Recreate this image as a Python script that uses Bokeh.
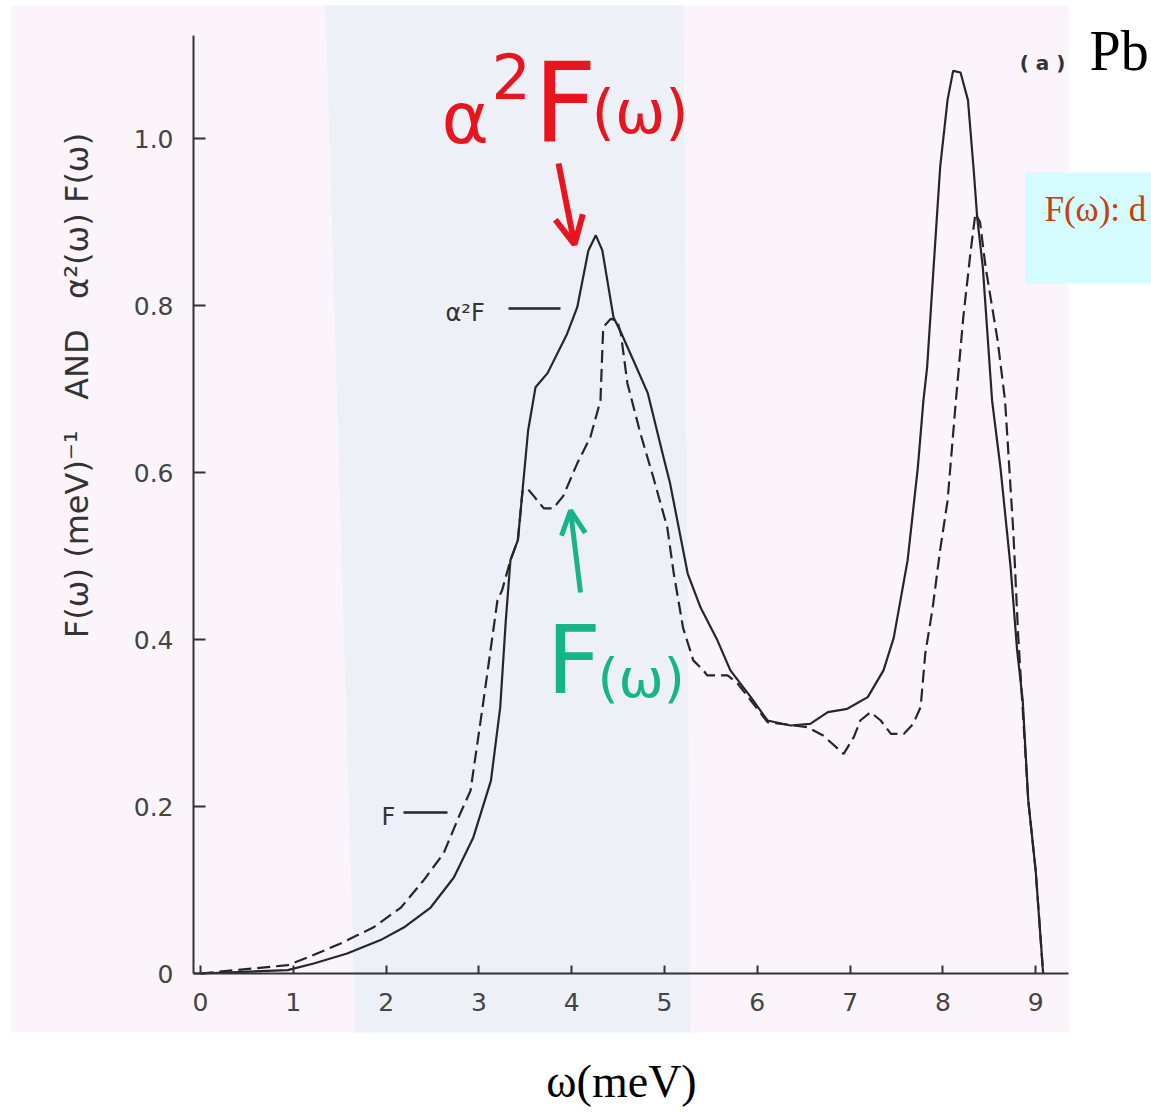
import math

from bokeh.embed import file_html
from bokeh.models import (Arrow, BoxAnnotation, FixedTicker, Label, OpenHead,
                          PolyAnnotation, Range1d)
from bokeh.plotting import figure
from bokeh.resources import INLINE

# Eliashberg function alpha^2 F(omega) of Pb (omega in meV)
omega_a2f = [0.00, 0.94, 1.22, 1.58, 1.94, 2.19, 2.48, 2.73, 2.94, 3.13,
             3.23, 3.29, 3.34, 3.42, 3.47, 3.53, 3.61, 3.74, 3.95, 4.06,
             4.18, 4.26, 4.33, 4.45, 4.53, 4.67, 4.82, 4.99, 5.06, 5.25,
             5.39, 5.57, 5.71, 5.93, 6.11, 6.36, 6.57, 6.76, 6.97, 7.19,
             7.36, 7.47, 7.62, 7.73, 7.79, 7.83, 7.90, 7.97, 8.05, 8.11,
             8.19, 8.27, 8.33, 8.37, 8.43, 8.48, 8.53, 8.62, 8.73, 8.80,
             8.86, 8.92, 9.00, 9.08]
a2f = [0.000, 0.004, 0.012, 0.024, 0.040, 0.055, 0.079, 0.115, 0.163, 0.231,
       0.319, 0.423, 0.495, 0.519, 0.578, 0.650, 0.702, 0.719, 0.766, 0.798,
       0.866, 0.884, 0.866, 0.786, 0.768, 0.733, 0.695, 0.618, 0.587, 0.479,
       0.438, 0.399, 0.363, 0.331, 0.303, 0.297, 0.299, 0.313, 0.317, 0.331,
       0.363, 0.402, 0.495, 0.606, 0.686, 0.726, 0.846, 0.965, 1.046, 1.081,
       1.079, 1.046, 0.965, 0.905, 0.846, 0.766, 0.686, 0.606, 0.486, 0.387,
       0.327, 0.207, 0.123, 0.000]

# phonon density of states F(omega) of Pb
omega_f = [0.00, 0.94, 1.15, 1.51, 1.86, 2.16, 2.40, 2.62, 2.80, 2.91,
           3.05, 3.20, 3.25, 3.34, 3.42, 3.47, 3.52, 3.59, 3.70, 3.80,
           3.91, 4.06, 4.20, 4.31, 4.33, 4.34, 4.42, 4.49, 4.53, 4.60,
           4.74, 4.88, 5.03, 5.10, 5.20, 5.31, 5.42, 5.46, 5.68, 5.79,
           5.93, 6.11, 6.54, 6.71, 6.93, 7.04, 7.11, 7.22, 7.33, 7.44,
           7.58, 7.68, 7.76, 7.81, 7.89, 7.97, 8.05, 8.14, 8.22, 8.30,
           8.35, 8.40, 8.46, 8.59, 8.67, 8.76, 8.81, 8.92, 9.00, 9.08]
f_dos = [0.000, 0.010, 0.019, 0.036, 0.055, 0.079, 0.111, 0.144, 0.192, 0.219,
         0.327, 0.447, 0.459, 0.495, 0.519, 0.578, 0.581, 0.572, 0.557, 0.557,
         0.572, 0.611, 0.642, 0.686, 0.746, 0.774, 0.784, 0.782, 0.766, 0.707,
         0.647, 0.594, 0.534, 0.479, 0.414, 0.375, 0.363, 0.357, 0.357, 0.347,
         0.327, 0.301, 0.295, 0.285, 0.263, 0.283, 0.303, 0.313, 0.303, 0.287,
         0.287, 0.299, 0.319, 0.383, 0.438, 0.507, 0.566, 0.686, 0.786, 0.866,
         0.910, 0.900, 0.846, 0.758, 0.686, 0.527, 0.407, 0.207, 0.123, 0.000]

x_ticks = [0, 1, 2, 3, 4, 5, 6, 7, 8, 9]
y_ticks = [0.0, 0.2, 0.4, 0.6, 0.8, 1.0]
y_tick_labels = {0: "0", 1: "1.0"}

# ---- page geometry (pixels from the top-left corner of the page) ----
W, H = 1151, 1112
AX_L, AX_R, AX_T, AX_B = 193, 1068, 35, 973   # extent of the drawn axes
X0_PX, PX_PER_MEV = 200.0, 92.8     # omega = 0 sits at x = 200 px
Y0_PX, PX_PER_UNIT = 973.0, 835.0   # value = 0 sits at y = 973 px


def dx(px):
    """horizontal page position -> omega (meV)"""
    return (px - X0_PX) / PX_PER_MEV


def dy(py):
    """vertical page position -> curve value"""
    return (Y0_PX - py) / PX_PER_UNIT


INK = "#262626"
RED = "#e8141e"
GREEN = "#17b48a"
PAPER = "#fbf5fb"
BAND = "#eef0f7"
NB = "\u00a0"

# the plotting frame spans the whole page; the axes are pinned inside it
p = figure(width=W, height=H, output_backend="svg", toolbar_location=None,
           x_range=Range1d(dx(0), dx(W)), y_range=Range1d(dy(H), dy(0)),
           min_border=0)
p.title.visible = False
p.background_fill_color = "white"
p.border_fill_color = "white"
p.outline_line_color = None
p.grid.visible = False

# paper sheet and the pale vertical band across it
p.add_layout(BoxAnnotation(left=dx(10), right=dx(1068), top=dy(5), bottom=dy(1032),
                           fill_color=PAPER, fill_alpha=1.0, line_color=None,
                           level="underlay"))
p.add_layout(PolyAnnotation(xs=[dx(325), dx(683), dx(690), dx(355)],
                            ys=[dy(5), dy(5), dy(1032), dy(1032)],
                            fill_color=BAND, fill_alpha=1.0, line_color=None,
                            level="underlay"))

# axes
for ax in (p.xaxis, p.yaxis):
    ax.axis_line_color = "#333333"
    ax.axis_line_width = 2
    ax.major_tick_line_color = "#333333"
    ax.major_tick_line_width = 2
    ax.major_tick_out = 0
    ax.minor_tick_line_color = None
    ax.major_label_text_font = "DejaVu Sans"
    ax.major_label_text_font_size = "25px"
    ax.major_label_text_color = "#444444"
p.xaxis.fixed_location = dy(AX_B)
p.yaxis.fixed_location = dx(AX_L)
p.xaxis.bounds = (dx(AX_L), dx(AX_R))
p.yaxis.bounds = (dy(AX_B), dy(AX_T))
p.xaxis.ticker = FixedTicker(ticks=x_ticks)
p.yaxis.ticker = FixedTicker(ticks=y_ticks)
p.xaxis.major_tick_in = 8
p.yaxis.major_tick_in = 12
p.xaxis.major_label_standoff = 19
p.yaxis.major_label_standoff = 20
p.yaxis.major_label_overrides = y_tick_labels

# curves
p.line(omega_a2f, a2f, line_color=INK, line_width=2.2)
p.line(omega_f, f_dos, line_color=INK, line_width=2.2, line_dash="13 6")


def note(px, base, text, size, color, font="DejaVu Sans", **kw):
    """text whose glyph baseline sits at page row `base` (size in px)"""
    mid = base - 0.35 * size
    p.add_layout(Label(x=dx(px), y=dy(mid), text=text, text_font=font,
                       text_font_size=f"{size}px", text_color=color,
                       text_baseline="middle", **kw))


# curve keys with leader lines
note(445, 321, "α²F", 24, "#333333")
p.add_layout(Arrow(end=None, x_start=dx(508), y_start=dy(308), x_end=dx(560), y_end=dy(308),
                   line_color=INK, line_width=2.5))
note(381, 825, "F", 24, "#333333")
p.add_layout(Arrow(end=None, x_start=dx(403), y_start=dy(812), x_end=dx(447), y_end=dy(812),
                   line_color=INK, line_width=2.5))

# axis titles
y_title = f"F(ω) (meV)⁻¹{NB * 3}AND{NB * 3}α²(ω) F(ω)"
p.add_layout(Label(x=dx(76), y=dy(385), text=y_title, angle=math.pi / 2,
                   text_align="center", text_baseline="middle",
                   text_font="DejaVu Sans", text_font_size="32px", text_color="#333333"))
note(621, 1097, "ω(meV)", 46, "black", font="Liberation Serif", text_align="center")

# panel tag and element
note(1042, 69, "( a )", 20, "#333333", text_align="center", text_font_style="bold")
note(1089, 70, "Pb", 56, "black", font="Liberation Serif")

# note box
p.add_layout(BoxAnnotation(left=dx(1025), right=dx(1151), top=dy(172), bottom=dy(283),
                           fill_color="#d4fbfe", fill_alpha=1.0, line_color=None,
                           level="underlay"))
note(1044, 221, "F(ω): d", 35, "#c8400a", font="Liberation Serif")

# hand-written call-outs
note(441, 143, "α", 72, RED)
note(491, 97, "2", 62, RED)
note(533, 142, "F", 110, RED)
note(591, 132, "(ω)", 60, RED)
p.add_layout(Arrow(end=OpenHead(size=28, line_width=6, line_color=RED),
                   x_start=dx(558), y_start=dy(163), x_end=dx(574), y_end=dy(244),
                   line_color=RED, line_width=6))

note(546, 693, "F", 95, GREEN)
note(597, 697, "(ω)", 54, GREEN)
p.add_layout(Arrow(end=OpenHead(size=24, line_width=5, line_color=GREEN),
                   x_start=dx(580), y_start=dy(592), x_end=dx(570), y_end=dy(510),
                   line_color=GREEN, line_width=5))

open("out.html", "w").write(file_html(p, INLINE))
